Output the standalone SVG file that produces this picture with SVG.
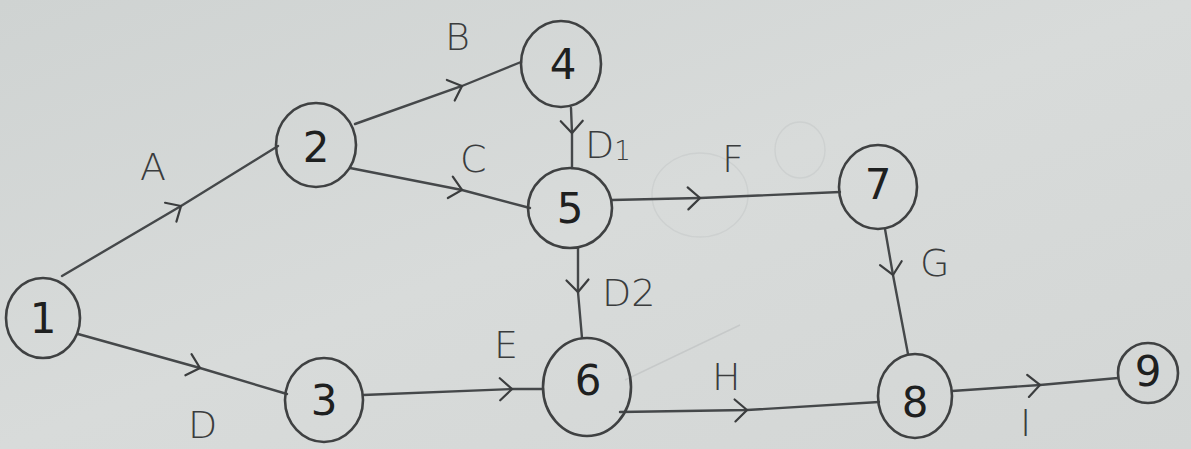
<svg xmlns="http://www.w3.org/2000/svg" width="1191" height="449" viewBox="0 0 1191 449">
  <defs>
    <linearGradient id="paper" x1="0" y1="0" x2="1" y2="1">
      <stop offset="0" stop-color="#cfd3d2"/>
      <stop offset="0.5" stop-color="#d8dbda"/>
      <stop offset="1" stop-color="#d3d6d5"/>
    </linearGradient>
    <marker id="chev" markerWidth="30" markerHeight="30" refX="15" refY="15" orient="auto" markerUnits="userSpaceOnUse">
      <path d="M3,4 L15,15 L3,26" fill="none" stroke="#3b3d3e" stroke-width="2.2" stroke-linecap="round"/>
    </marker>
  </defs>
  <style>
    .node ellipse { fill: none; stroke: #3f4142; stroke-width: 2.6; }
    .node text { font-family: "DejaVu Sans", sans-serif; font-size: 42px; fill: #1e2020; text-anchor: middle; dominant-baseline: central; }
    .edge { fill: none; stroke: #45484a; stroke-width: 2.4; stroke-linecap: round; marker-mid: url(#chev); }
    .lbl { font-family: "DejaVu Sans", sans-serif; font-size: 38px; fill: #3a3c3d; font-weight: 300; }
    .faint { fill: none; stroke: #c6c9c9; stroke-width: 1.4; }
  </style>

  <rect width="1191" height="449" fill="url(#paper)"/>

  <!-- erased pencil traces -->
  <g id="traces">
    <line class="faint" x1="625" y1="380" x2="740" y2="325"/>
    <ellipse class="faint" cx="700" cy="195" rx="48" ry="42" opacity="0.6"/>
    <ellipse class="faint" cx="800" cy="150" rx="25" ry="28" opacity="0.6"/>
  </g>

  <!-- activity arrows -->
  <g id="connectors">
    <polyline class="edge" points="62,276 181,206 278,146"/>
    <polyline class="edge" points="78,334 200,368 287,394"/>
    <polyline class="edge" points="355,124 462,86 521,62"/>
    <polyline class="edge" points="350,168 462,190 530,208"/>
    <polyline class="edge" points="571,108 572,133 572,168"/>
    <polyline class="edge" points="612,200 700,198 840,192"/>
    <polyline class="edge" points="578,248 578,292 582,338"/>
    <polyline class="edge" points="363,395 512,389 543,389"/>
    <polyline class="edge" points="620,412 747,410 879,402"/>
    <polyline class="edge" points="885,229 893,275 908,354"/>
    <polyline class="edge" points="952,391 1040,385 1118,378"/>
  </g>

  <!-- activity labels -->
  <g id="labels">
    <text class="lbl" x="140" y="180">A</text>
    <text class="lbl" x="445" y="50">B</text>
    <text class="lbl" x="460" y="172">C</text>
    <text class="lbl" x="585" y="158">D<tspan font-size="26" dy="2">1</tspan></text>
    <text class="lbl" x="722" y="172">F</text>
    <text class="lbl" x="920" y="276">G</text>
    <text class="lbl" x="602" y="306">D2</text>
    <text class="lbl" x="494" y="358">E</text>
    <text class="lbl" x="712" y="390">H</text>
    <text class="lbl" x="188" y="438">D</text>
    <text class="lbl" x="1020" y="436">I</text>
  </g>

  <!-- events -->
  <g id="n1" class="node"><ellipse cx="43" cy="318" rx="37" ry="40"/><text x="43" y="318">1</text></g>
  <g id="n2" class="node"><ellipse cx="316" cy="145" rx="40" ry="42"/><text x="316" y="147">2</text></g>
  <g id="n3" class="node"><ellipse cx="324" cy="400" rx="39" ry="42"/><text x="324" y="400">3</text></g>
  <g id="n4" class="node"><ellipse cx="561" cy="64" rx="40" ry="43"/><text x="563" y="64">4</text></g>
  <g id="n5" class="node"><ellipse cx="570" cy="208" rx="42" ry="40"/><text x="570" y="208">5</text></g>
  <g id="n6" class="node"><ellipse cx="587" cy="387" rx="44" ry="49"/><text x="588" y="380">6</text></g>
  <g id="n7" class="node"><ellipse cx="878" cy="187" rx="39" ry="42"/><text x="878" y="184">7</text></g>
  <g id="n8" class="node"><ellipse cx="915" cy="396" rx="37" ry="42"/><text x="915" y="402">8</text></g>
  <g id="n9" class="node"><ellipse cx="1148" cy="373" rx="30" ry="30"/><text x="1148" y="371" font-size="36">9</text></g>
</svg>
